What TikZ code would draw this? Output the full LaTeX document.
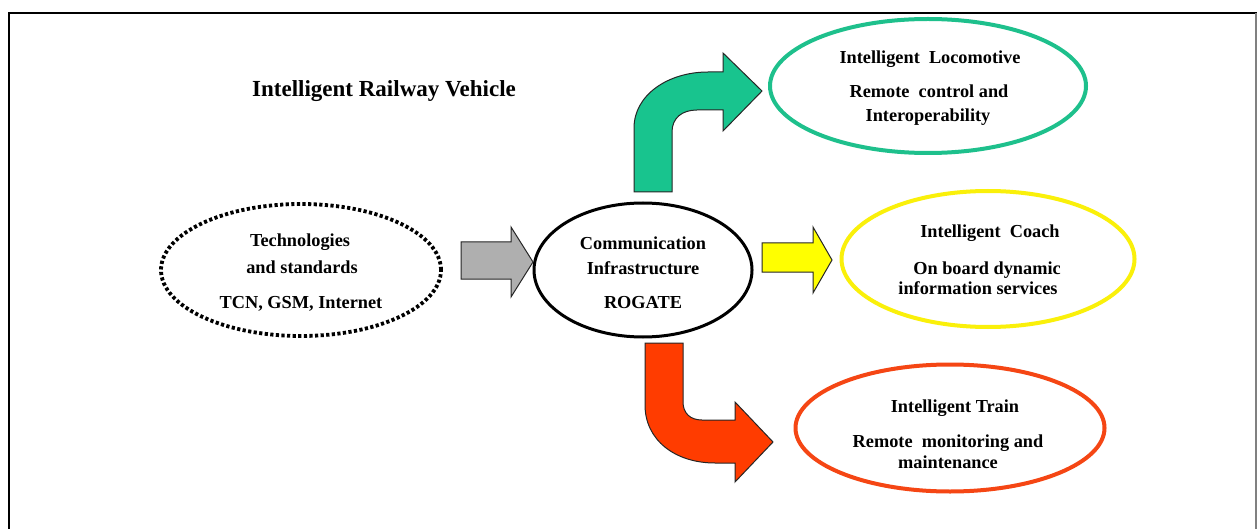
\documentclass[tikz,border=0pt]{standalone}
\usepackage{fontspec}
\setmainfont{Liberation Serif}
\usetikzlibrary{shapes.geometric}
\definecolor{lgreen}{RGB}{24,196,142}
\definecolor{egreen}{RGB}{30,192,140}
\definecolor{lyellow}{RGB}{255,255,0}
\definecolor{eyellow}{RGB}{250,240,10}
\definecolor{lred}{RGB}{255,60,0}
\definecolor{ered}{RGB}{245,70,20}
\definecolor{lgray}{RGB}{175,175,175}
\begin{document}
\begin{tikzpicture}[x=1pt,y=-1pt,
  oval/.style={ellipse, inner sep=0pt},
  txt/.style={font=\fontsize{18.3}{20}\selectfont\bfseries, anchor=base, inner sep=0pt},
  blockarrow/.style={draw=black!85, line width=1pt, line join=miter}]
\useasboundingbox (0,0) rectangle (1257,529);
\fill[white] (0,0) rectangle (1257,529);
\draw[line width=2.5pt] (9,529) -- (9,13) -- (1257,13);
\draw[gray, line width=1.5pt] (1256,13) -- (1256,529);

\node[txt, font=\fontsize{23}{26}\selectfont\bfseries] (title) at (384,97) {Intelligent Railway Vehicle};

% ellipses
\node[oval, draw, line width=3.8pt, dash pattern=on 3.2pt off 2.4pt, minimum width=280pt, minimum height=132pt] (tech) at (301,270) {};
\node[oval, draw, line width=3pt, minimum width=218pt, minimum height=134pt] (comm) at (643,270) {};
\node[oval, draw=egreen, line width=4pt, minimum width=316pt, minimum height=134pt] (loco) at (928,86) {};
\node[oval, draw=eyellow, line width=4pt, minimum width=293pt, minimum height=136pt] (coach) at (988,259) {};
\node[oval, draw=ered, line width=4pt, minimum width=309pt, minimum height=127pt] (train) at (950,428) {};

% texts
\node[txt] (t1) at (300,247) {Technologies};
\node[txt] (t2) at (302,273) {and standards};
\node[txt] (t3) at (301,308) {TCN, GSM, Internet};

\node[txt] (c1) at (643,249) {Communication};
\node[txt] (c2) at (643,274) {Infrastructure};
\node[txt] (c3) at (643,308) {ROGATE};

\node[txt] (l1) at (930,64) {Intelligent\ \ Locomotive};
\node[txt] (l2) at (929,98) {Remote\ \ control and};
\node[txt] (l3) at (928,122) {Interoperability};

\node[txt] (y1) at (990,238) {Intelligent\ \ Coach};
\node[txt] (y2) at (987,274) {On board dynamic};
\node[txt] (y3) at (978,294) {information services};

\node[txt] (r1) at (955,412) {Intelligent Train};
\node[txt] (r2) at (948,447) {Remote\ \ monitoring and};
\node[txt] (r3) at (948,468) {maintenance};

% block arrows
\filldraw[blockarrow, fill=lgray] (461,242) -- (511,242) -- (511,227) -- (533,262) -- (511,297) -- (511,279) -- (461,279) -- cycle;
\filldraw[blockarrow, fill=lyellow] (762,243) -- (813,243) -- (813,227) -- (832,260) -- (813,293) -- (813,272) -- (762,272) -- cycle;
\filldraw[blockarrow, fill=lgreen] (634,192) -- (634,128) .. controls (634,95) and (668,72) .. (708,72) -- (723,72) -- (723,53) -- (762,91) -- (723,131) -- (723,110) -- (697,110) .. controls (682,110) and (672,118) .. (672,132) -- (672,192) -- cycle;
\filldraw[blockarrow, fill=lred] (645,343) -- (683,343) -- (683,402) .. controls (683,413) and (690,420) .. (702,420) -- (735,420) -- (735,402) -- (773,442) -- (735,482) -- (735,463) -- (715,463) .. controls (675,463) and (645,440) .. (645,405) -- cycle;
\end{tikzpicture}
\end{document}
